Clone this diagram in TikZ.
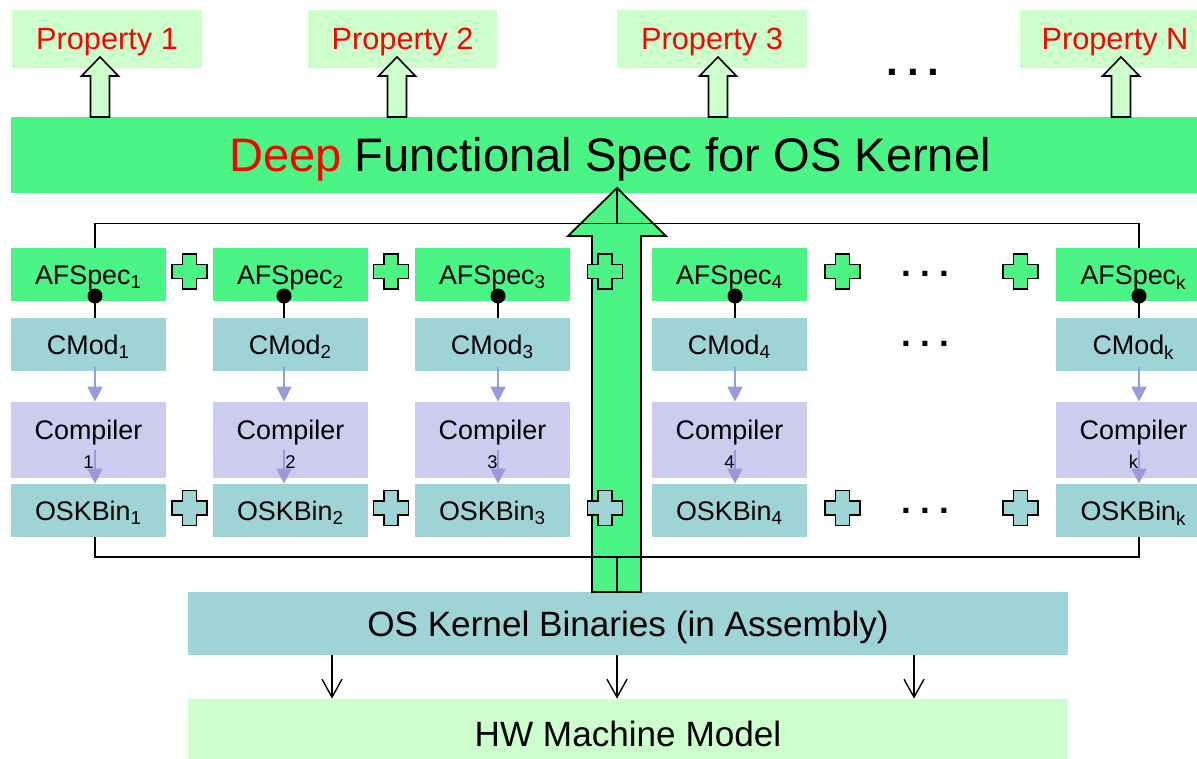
\documentclass[tikz,border=0pt]{standalone}
\usepackage{fontspec}
\setmainfont{Liberation Sans}
\usetikzlibrary{calc,arrows.meta}

\definecolor{propfill}{RGB}{204,255,204}
\definecolor{specgreen}{RGB}{74,245,133}
\definecolor{modteal}{RGB}{159,212,215}
\definecolor{complav}{RGB}{204,204,238}
\definecolor{flowlav}{RGB}{153,153,221}

\newcommand\setsz[1]{\fontsize{#1}{#1}\selectfont}

\tikzset{
  cellbox/.style={rectangle, inner sep=0pt, minimum width=3.1cm, minimum height=1.06cm,
    font=\setsz{15.3}, text height=10.95pt, text depth=0pt},
  afsbox/.style={cellbox, fill=specgreen},
  modbox/.style={cellbox, fill=modteal},
  compbox/.style={cellbox, fill=complav, minimum height=1.52cm, text depth=11.7pt},
  numtext/.style={inner sep=0pt, font=\setsz{10.5}},
  propbox/.style={rectangle, inner sep=0pt, fill=propfill, minimum width=3.8cm,
    minimum height=1.16cm, text=red, font=\setsz{17.5}, text height=12.5pt, text depth=0pt},
  widebox/.style={rectangle, inner sep=0pt, minimum width=17.6cm,
    font=\setsz{20}, text height=14.3pt, text depth=0pt},
  hollowarrow/.style={draw=black, line width=0.9pt, fill=propfill},
  bigarrow/.style={draw=black, line width=1pt, fill=specgreen},
  frameline/.style={draw=black, line width=1pt},
  pinline/.style={draw=black, line width=1pt},
  flowarrow/.style={draw=flowlav, line width=0.9pt, arrows={-Triangle[length=0.3cm,width=0.3cm]}},
  downarrow/.style={draw=black, line width=0.8pt, arrows={-Straight Barb[length=0.36cm,width=0.4cm]}},
  plusmark/.style={draw=black, line width=0.9pt},
  dotsrow/.style={inner sep=0pt, font=\bfseries\setsz{20}},
  pics/plussign/.style={code={
    \path[pic actions] (-7,-17.5) -- (7,-17.5) -- (7,-7) -- (17.5,-7) -- (17.5,7) -- (7,7)
      -- (7,17.5) -- (-7,17.5) -- (-7,7) -- (-17.5,7) -- (-17.5,-7) -- (-7,-7) -- cycle;}},
}

\begin{document}
\begin{tikzpicture}[x=0.02cm, y=-0.02cm]
\useasboundingbox (0,0) rectangle (1197,758);

% properties on top
\node[propbox] (prop1) at (107,39)    {Property 1};
\node[propbox] (prop2) at (402.5,39)  {Property 2};
\node[propbox] (prop3) at (712,39)    {Property 3};
\node[propbox] (propN) at (1115,39)   {Property N};
\node[dotsrow, font=\bfseries\setsz{24}] (topdots) at (913,72) {.\hspace{4.9pt}.\hspace{4.9pt}.};

% the deep specification
\node[rectangle, inner sep=0pt, fill=specgreen, minimum width=23.96cm, minimum height=1.52cm,
  font=\setsz{26.8}, text height=19.2pt, text depth=0pt] (deep) at (610,155)
  {\textcolor{red}{Deep} Functional Spec for OS Kernel};

% hollow arrows from the spec to each property
\foreach \ax in {100,397,718,1121}
  \draw[hollowarrow] ({\ax-9.5},117) -- ({\ax-9.5},76) -- ({\ax-18.5},76) -- (\ax,57)
    -- ({\ax+18.5},76) -- ({\ax+9.5},76) -- ({\ax+9.5},117) -- cycle;

% per-module columns
\foreach \i/\cx/\lx in {1/88.5/95, 2/290.5/284, 3/492.5/498, 4/729.5/735, k/1133.5/1139} {
  \node[afsbox]  (afs\i)  at (\cx,274.5) {AFSpec\textsubscript{\i}};
  \node[modbox]  (cmod\i) at (\cx,344.5) {CMod\textsubscript{\i}};
  \node[compbox] (comp\i) at (\cx,440)   {Compiler};
  \node[numtext] (num\i)  at (\cx,461.7) {\i};
  \node[modbox]  (osk\i)  at (\cx,510.5) {OSKBin\textsubscript{\i}};
  \coordinate (lane\i) at (\lx,0);
  \coordinate (pin\i) at (\lx,296);
}

% kernel binaries and machine model
\node[widebox, fill=modteal, minimum height=1.26cm] (okb) at (628,623.5) {OS Kernel Binaries (in Assembly)};
\node[widebox, fill=propfill, minimum height=1.38cm] (hw)  at (628,733.5) {HW Machine Model};

% the big refinement arrow
\coordinate (tip)  at (617,188);
\coordinate (ftop) at (617,223.5);
\coordinate (fbot) at (617,557);
\draw[bigarrow] (592,592) -- (592,236) -- (568,236) -- (tip) -- (666,236) -- (641,236)
  -- (641,592) -- cycle;

% links grouping the columns
\draw[frameline] (afs1.north -| lane1) |- (ftop) -| (afsk.north -| lanek);
\draw[frameline] (ftop) -- (tip);
\draw[frameline] (osk1.south -| lane1) |- (fbot) -| (oskk.south -| lanek);
\draw[frameline] (fbot) -- (fbot |- okb.north);

% composition signs
\foreach \px in {189.5,391,605,842.5,1020.5} {
  \pic[plusmark, fill=specgreen] at (\px,271.5) {plussign};
  \pic[plusmark, fill=modteal]   at (\px,508)   {plussign};
}
\node[dotsrow] (dotsA) at (925.5,274) {.\hspace{5.2pt}.\hspace{5.2pt}.};
\node[dotsrow] (dotsC) at (925.5,344) {.\hspace{5.2pt}.\hspace{5.2pt}.};
\node[dotsrow] (dotsO) at (925.5,511) {.\hspace{5.2pt}.\hspace{5.2pt}.};

% binaries run on the machine model
\foreach \ax in {332,617,914}
  \draw[downarrow] (okb.south -| \ax,0) -- (hw.north -| \ax,0);

% pins and compile flow inside each column
\foreach \i in {1,2,3,4,k} {
  \draw[pinline] (pin\i) -- (cmod\i.north -| pin\i);
  \fill[black] (pin\i) circle[radius=0.15cm];
  \draw[flowarrow] ([yshift=0.08cm]cmod\i.south -| lane\i) -- (comp\i.north -| lane\i);
  \draw[flowarrow] ([yshift=-0.96cm]comp\i.north -| lane\i) -- (osk\i.north -| lane\i);
}
\end{tikzpicture}
\end{document}
